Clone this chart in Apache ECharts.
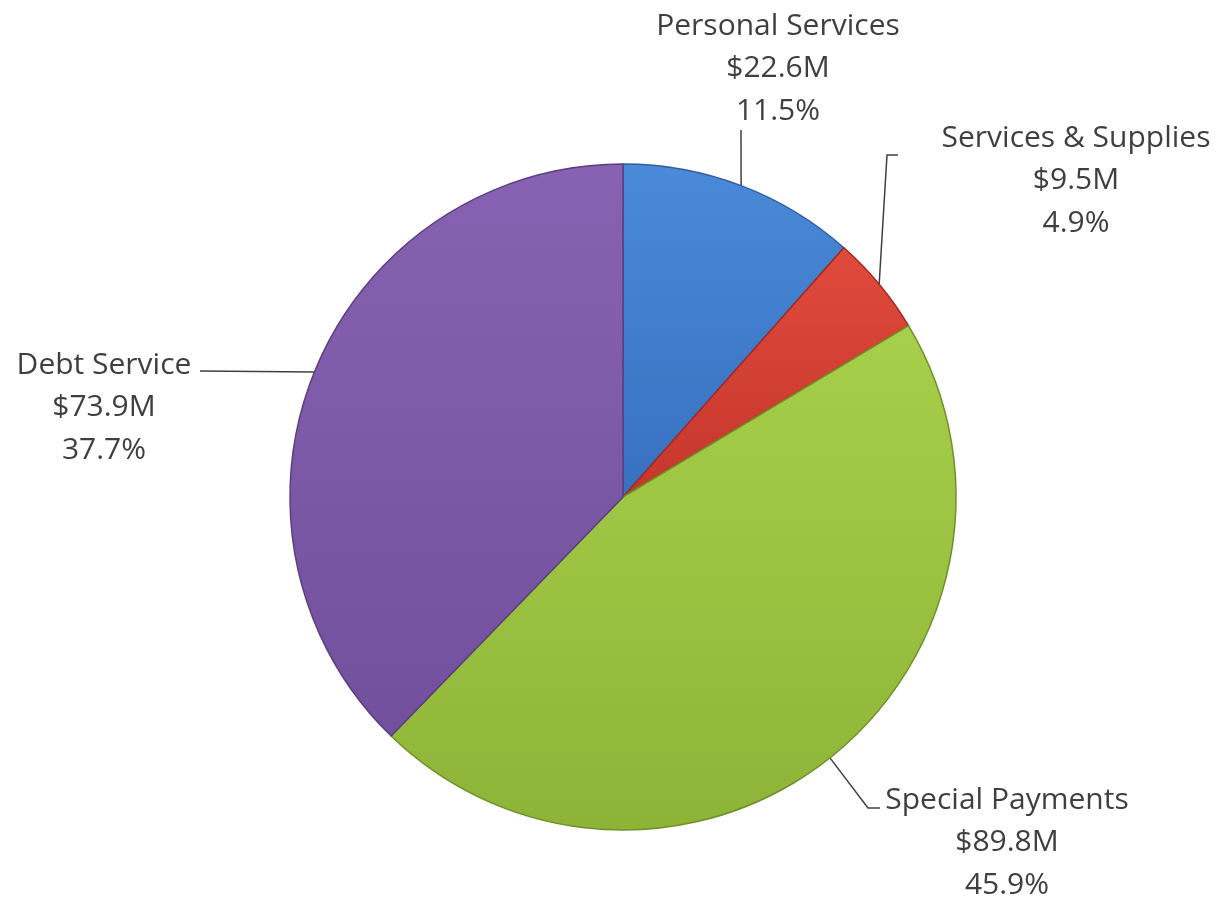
<!DOCTYPE html>
<html>
<head>
<meta charset="utf-8">
<title>Expenditures by Category</title>
<script src="https://cdn.jsdelivr.net/npm/echarts@6/dist/echarts.min.js"></script>
<style>
  html, body { margin: 0; padding: 0; background: #ffffff; }
  #chart { width: 1222px; height: 902px; }
</style>
</head>
<body>
<div id="chart"></div>
<script>
// Spending categories, in millions of dollars, clockwise from 12 o'clock
const categories = ['Personal Services', 'Services & Supplies', 'Special Payments', 'Debt Service'];
const amounts = [22.6, 9.5, 89.8, 73.9];

// Slice fills: [lighter top, darker bottom, edge]
const sliceColors = [
  ['#4a8ad8', '#3870c0', '#2f5f9f'],
  ['#e04a3c', '#c5362b', '#9e2a22'],
  ['#a8cf4a', '#8db437', '#6f8f2a'],
  ['#8762b2', '#72509d', '#5a3e80']
];

// Where each label block sits and how its leader line bends
const labelPlacement = [
  { x: 778,  y: 5,   bend: [[741, 130]] },
  { x: 1076, y: 117, bend: [[887, 155], [898, 155]] },
  { x: 1007, y: 779, bend: [[868, 808], [880, 808]] },
  { x: 104,  y: 344, bend: [[200, 371]] }
];

const chart = echarts.init(document.getElementById('chart'));

const data = categories.map((name, i) => ({
  name: name,
  value: amounts[i],
  itemStyle: {
    color: new echarts.graphic.LinearGradient(0, 0, 0, 1, [
      { offset: 0, color: sliceColors[i][0] },
      { offset: 1, color: sliceColors[i][1] }
    ]),
    borderColor: sliceColors[i][2],
    borderWidth: 1.5
  }
}));

chart.setOption({
  backgroundColor: '#ffffff',
  animation: false,
  series: [{
    type: 'pie',
    center: [623, 497],
    radius: 333,
    startAngle: 90,
    clockwise: true,
    percentPrecision: 1,
    avoidLabelOverlap: false,
    data: data,
    emphasis: { disabled: true },
    label: {
      show: true,
      position: 'outside',
      formatter: p => p.name + '\n$' + p.value.toFixed(1) + 'M\n' + p.percent.toFixed(1) + '%',
      fontFamily: 'Open Sans',
      fontSize: 30,
      lineHeight: 42.5,
      color: '#3f3f3f',
      align: 'center'
    },
    labelLine: {
      show: true,
      length: 20,
      length2: 20,
      lineStyle: { color: '#404040', width: 1.5 }
    },
    labelLayout: function (params) {
      const place = labelPlacement[params.dataIndex];
      const start = params.labelLinePoints ? params.labelLinePoints[0] : null;
      const out = {
        x: place.x,
        y: place.y,
        align: 'center',
        verticalAlign: 'top'
      };
      if (start) {
        out.labelLinePoints = [start].concat(place.bend);
      }
      return out;
    }
  }]
});
</script>
</body>
</html>
